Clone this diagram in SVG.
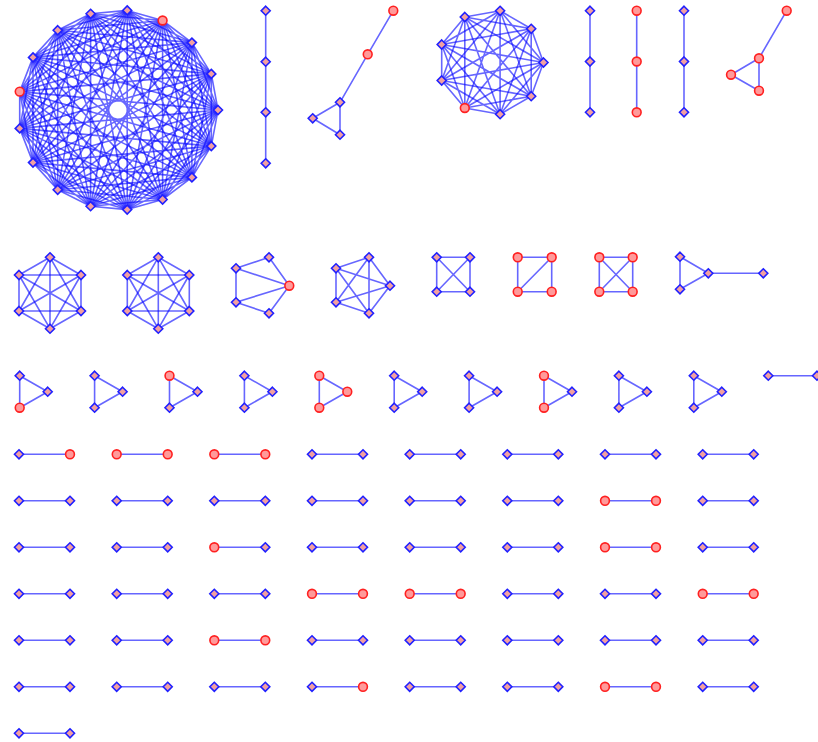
<svg xmlns="http://www.w3.org/2000/svg" xmlns:xlink="http://www.w3.org/1999/xlink" width="818" height="742" viewBox="0 0 818 742">
<style>
.e{fill:none;stroke:#0000ff;stroke-opacity:0.6;stroke-width:1.6;stroke-linejoin:round}
.dn{fill:#f2a0a0;stroke:#2020ff;stroke-width:1.6}
.cn{fill:#ff9a9a;stroke:#ff2020;stroke-width:1.6}
</style>
<defs>
<path id="d" class="dn" d="M0-4.5L4.5 0L0 4.5L-4.5 0Z"/>
<circle id="c" class="cn" r="4.4"/>
</defs>
<rect width="818" height="742" fill="#ffffff"/>
<g id="edges">
<polygon class="e" points="218,110 211.3,73.9 191.9,42.6 162.6,20.5 127.2,10.4 90.6,13.8 57.7,30.2 33,57.4 19.7,91.6 19.7,128.4 33,162.6 57.7,189.8 90.6,206.2 127.2,209.6 162.6,199.5 191.9,177.4 211.3,146.1"/>
<polygon class="e" points="218,110 191.9,42.6 127.2,10.4 57.7,30.2 19.7,91.6 33,162.6 90.6,206.2 162.6,199.5 211.3,146.1 211.3,73.9 162.6,20.5 90.6,13.8 33,57.4 19.7,128.4 57.7,189.8 127.2,209.6 191.9,177.4"/>
<polygon class="e" points="218,110 162.6,20.5 57.7,30.2 19.7,128.4 90.6,206.2 191.9,177.4 211.3,73.9 127.2,10.4 33,57.4 33,162.6 127.2,209.6 211.3,146.1 191.9,42.6 90.6,13.8 19.7,91.6 57.7,189.8 162.6,199.5"/>
<polygon class="e" points="218,110 127.2,10.4 19.7,91.6 90.6,206.2 211.3,146.1 162.6,20.5 33,57.4 57.7,189.8 191.9,177.4 191.9,42.6 57.7,30.2 33,162.6 162.6,199.5 211.3,73.9 90.6,13.8 19.7,128.4 127.2,209.6"/>
<polygon class="e" points="218,110 90.6,13.8 33,162.6 191.9,177.4 162.6,20.5 19.7,91.6 127.2,209.6 211.3,73.9 57.7,30.2 57.7,189.8 211.3,146.1 127.2,10.4 19.7,128.4 162.6,199.5 191.9,42.6 33,57.4 90.6,206.2"/>
<polygon class="e" points="218,110 57.7,30.2 90.6,206.2 211.3,73.9 33,57.4 127.2,209.6 191.9,42.6 19.7,91.6 162.6,199.5 162.6,20.5 19.7,128.4 191.9,177.4 127.2,10.4 33,162.6 211.3,146.1 90.6,13.8 57.7,189.8"/>
<polygon class="e" points="218,110 33,57.4 162.6,199.5 127.2,10.4 57.7,189.8 211.3,73.9 19.7,91.6 191.9,177.4 90.6,13.8 90.6,206.2 191.9,42.6 19.7,128.4 211.3,146.1 57.7,30.2 127.2,209.6 162.6,20.5 33,162.6"/>
<polygon class="e" points="218,110 19.7,91.6 211.3,146.1 33,57.4 191.9,177.4 57.7,30.2 162.6,199.5 90.6,13.8 127.2,209.6 127.2,10.4 90.6,206.2 162.6,20.5 57.7,189.8 191.9,42.6 33,162.6 211.3,73.9 19.7,128.4"/>
<path class="e" d="M265.7 10.7V163.3"/>
<path class="e" d="M393.3 10.7L367.7 54.3L340 102.3M340 102.3V134.7L312.7 118.3Z"/>
<polygon class="e" points="543.5,62.5 531.2,28.8 500.1,10.8 464.8,17 441.7,44.5 441.7,80.5 464.8,108 500.1,114.2 531.2,96.2"/>
<polygon class="e" points="543.5,62.5 500.1,10.8 441.7,44.5 464.8,108 531.2,96.2 531.2,28.8 464.8,17 441.7,80.5 500.1,114.2"/>
<polygon class="e" points="543.5,62.5 464.8,17 464.8,108"/>
<polygon class="e" points="531.2,28.8 441.7,44.5 500.1,114.2"/>
<polygon class="e" points="500.1,10.8 441.7,80.5 531.2,96.2"/>
<polygon class="e" points="543.5,62.5 441.7,44.5 531.2,96.2 464.8,17 500.1,114.2 500.1,10.8 464.8,108 531.2,28.8 441.7,80.5"/>
<path class="e" d="M590 10.7V112.3M636.7 10.7V112.3M684 10.7V112.3"/>
<path class="e" d="M786.7 10.7L759 58.3M759 58.3V90.7L731 74.7Z"/>
<polygon class="e" points="50,257.3 81,275 81,311 50,328.7 19,311 19,275"/>
<polygon class="e" points="50,257.3 81,311 19,311"/>
<polygon class="e" points="81,275 50,328.7 19,275"/>
<path class="e" d="M50 257.3V328.7M81 275L19 311M81 311L19 275"/>
<polygon class="e" points="158.3,257.3 189.3,275 189.3,311 158.3,328.7 127.3,311 127.3,275"/>
<polygon class="e" points="158.3,257.3 189.3,311 127.3,311"/>
<polygon class="e" points="189.3,275 158.3,328.7 127.3,275"/>
<path class="e" d="M158.3 257.3V328.7M189.3 275L127.3 311M189.3 311L127.3 275"/>
<path class="e" d="M236 268.3L269 257.3L289.3 285.7L269 313.3L236 302.3ZM236 268.3L289.3 285.7M236 302.3L289.3 285.7"/>
<polygon class="e" points="336,268.3 369,257.3 390,285.7 369,313.3 336,302.3"/>
<polygon class="e" points="336,268.3 390,285.7 336,302.3 369,257.3 369,313.3"/>
<path class="e" d="M436.7 257.3H470V291.7H436.7ZM436.7 257.3L470 291.7M470 257.3L436.7 291.7"/>
<path class="e" d="M517.7 257.3H551.7V291.7H517.7ZM517.7 291.7L551.7 257.3"/>
<path class="e" d="M599.3 257.3H632.7V291.7H599.3ZM599.3 257.3L632.7 291.7M632.7 257.3L599.3 291.7"/>
<path class="e" d="M680 256.7L708.3 273.3L680 289.3ZM708.3 273.3H763.3"/>
<path class="e" d="M19.7 375.7V407.7L47.7 391.7ZM94.6 375.7V407.7L122.6 391.7ZM169.5 375.7V407.7L197.5 391.7ZM244.4 375.7V407.7L272.4 391.7ZM319.3 375.7V407.7L347.3 391.7ZM394.2 375.7V407.7L422.2 391.7ZM469.1 375.7V407.7L497.1 391.7ZM544 375.7V407.7L572 391.7ZM618.9 375.7V407.7L646.9 391.7ZM693.8 375.7V407.7L721.8 391.7ZM768.3 375.7H817"/>
<path class="e" d="M19 454.3H70M116.7 454.3H167.7M214.3 454.3H265.3M312 454.3H363M409.7 454.3H460.7M507.3 454.3H558.3M605 454.3H656M702.7 454.3H753.7
M19 500.8H70M116.7 500.8H167.7M214.3 500.8H265.3M312 500.8H363M409.7 500.8H460.7M507.3 500.8H558.3M605 500.8H656M702.7 500.8H753.7
M19 547.3H70M116.7 547.3H167.7M214.3 547.3H265.3M312 547.3H363M409.7 547.3H460.7M507.3 547.3H558.3M605 547.3H656M702.7 547.3H753.7
M19 593.8H70M116.7 593.8H167.7M214.3 593.8H265.3M312 593.8H363M409.7 593.8H460.7M507.3 593.8H558.3M605 593.8H656M702.7 593.8H753.7
M19 640.3H70M116.7 640.3H167.7M214.3 640.3H265.3M312 640.3H363M409.7 640.3H460.7M507.3 640.3H558.3M605 640.3H656M702.7 640.3H753.7
M19 686.8H70M116.7 686.8H167.7M214.3 686.8H265.3M312 686.8H363M409.7 686.8H460.7M507.3 686.8H558.3M605 686.8H656M702.7 686.8H753.7
M19 733.3H70"/>
</g>
<g id="nodes">
<g id="g1">
<use id="a0" href="#d" x="218" y="110"/><use id="a1" href="#d" x="211.3" y="73.9"/><use id="a2" href="#d" x="191.9" y="42.6"/><use id="a3" href="#c" x="162.6" y="20.5"/><use id="a4" href="#d" x="127.2" y="10.4"/><use id="a5" href="#d" x="90.6" y="13.8"/><use id="a6" href="#d" x="57.7" y="30.2"/><use id="a7" href="#d" x="33" y="57.4"/><use id="a8" href="#c" x="19.7" y="91.6"/><use id="a9" href="#d" x="19.7" y="128.4"/><use id="a10" href="#d" x="33" y="162.6"/><use id="a11" href="#d" x="57.7" y="189.8"/><use id="a12" href="#d" x="90.6" y="206.2"/><use id="a13" href="#d" x="127.2" y="209.6"/><use id="a14" href="#d" x="162.6" y="199.5"/><use id="a15" href="#d" x="191.9" y="177.4"/><use id="a16" href="#d" x="211.3" y="146.1"/>
</g>
<g id="g2">
<use id="b0" href="#d" x="265.7" y="10.7"/><use id="b1" href="#d" x="265.7" y="61.7"/><use id="b2" href="#d" x="265.7" y="112.3"/><use id="b3" href="#d" x="265.7" y="163.3"/>
</g>
<g id="g3">
<use id="c0" href="#c" x="393.3" y="10.7"/><use id="c1" href="#c" x="367.7" y="54.3"/><use id="c2" href="#d" x="340" y="102.3"/><use id="c3" href="#d" x="312.7" y="118.3"/><use id="c4" href="#d" x="340" y="134.7"/>
</g>
<g id="g4">
<use id="d0" href="#d" x="543.5" y="62.5"/><use id="d1" href="#d" x="531.2" y="28.8"/><use id="d2" href="#d" x="500.1" y="10.8"/><use id="d3" href="#d" x="464.8" y="17"/><use id="d4" href="#d" x="441.7" y="44.5"/><use id="d5" href="#d" x="441.7" y="80.5"/><use id="d6" href="#c" x="464.8" y="108"/><use id="d7" href="#d" x="500.1" y="114.2"/><use id="d8" href="#d" x="531.2" y="96.2"/>
</g>
<g id="g5">
<use id="e0" href="#d" x="590" y="10.7"/><use id="e1" href="#d" x="590" y="61.5"/><use id="e2" href="#d" x="590" y="112.3"/>
<use id="e3" href="#c" x="636.7" y="10.7"/><use id="e4" href="#c" x="636.7" y="61.5"/><use id="e5" href="#c" x="636.7" y="112.3"/>
<use id="e6" href="#d" x="684" y="10.7"/><use id="e7" href="#d" x="684" y="61.5"/><use id="e8" href="#d" x="684" y="112.3"/>
<use id="e9" href="#c" x="786.7" y="10.7"/><use id="e10" href="#c" x="759" y="58.3"/><use id="e11" href="#c" x="731" y="74.7"/><use id="e12" href="#c" x="759" y="90.7"/>
</g>
<g id="g6">
<use id="f0" href="#d" x="50" y="257.3"/><use id="f1" href="#d" x="81" y="275"/><use id="f2" href="#d" x="81" y="311"/><use id="f3" href="#d" x="50" y="328.7"/><use id="f4" href="#d" x="19" y="311"/><use id="f5" href="#d" x="19" y="275"/>
<use id="f6" href="#d" x="158.3" y="257.3"/><use id="f7" href="#d" x="189.3" y="275"/><use id="f8" href="#d" x="189.3" y="311"/><use id="f9" href="#d" x="158.3" y="328.7"/><use id="f10" href="#d" x="127.3" y="311"/><use id="f11" href="#d" x="127.3" y="275"/>
<use id="f12" href="#d" x="236" y="268.3"/><use id="f13" href="#d" x="269" y="257.3"/><use id="f14" href="#c" x="289.3" y="285.7"/><use id="f15" href="#d" x="269" y="313.3"/><use id="f16" href="#d" x="236" y="302.3"/>
<use id="f17" href="#d" x="336" y="268.3"/><use id="f18" href="#d" x="369" y="257.3"/><use id="f19" href="#d" x="390" y="285.7"/><use id="f20" href="#d" x="369" y="313.3"/><use id="f21" href="#d" x="336" y="302.3"/>
<use id="f22" href="#d" x="436.7" y="257.3"/><use id="f23" href="#d" x="470" y="257.3"/><use id="f24" href="#d" x="470" y="291.7"/><use id="f25" href="#d" x="436.7" y="291.7"/>
<use id="f26" href="#c" x="517.7" y="257.3"/><use id="f27" href="#c" x="551.7" y="257.3"/><use id="f28" href="#c" x="551.7" y="291.7"/><use id="f29" href="#c" x="517.7" y="291.7"/>
<use id="f30" href="#c" x="599.3" y="257.3"/><use id="f31" href="#c" x="632.7" y="257.3"/><use id="f32" href="#c" x="632.7" y="291.7"/><use id="f33" href="#c" x="599.3" y="291.7"/>
<use id="f34" href="#d" x="680" y="256.7"/><use id="f35" href="#d" x="680" y="289.3"/><use id="f36" href="#d" x="708.3" y="273.3"/><use id="f37" href="#d" x="763.3" y="273.3"/>
</g>
<g id="g7">
<use id="t0" href="#d" x="19.7" y="375.7"/><use id="t1" href="#c" x="19.7" y="407.7"/><use id="t2" href="#d" x="47.7" y="391.7"/>
<use id="t3" href="#d" x="94.6" y="375.7"/><use id="t4" href="#d" x="94.6" y="407.7"/><use id="t5" href="#d" x="122.6" y="391.7"/>
<use id="t6" href="#c" x="169.5" y="375.7"/><use id="t7" href="#d" x="169.5" y="407.7"/><use id="t8" href="#d" x="197.5" y="391.7"/>
<use id="t9" href="#d" x="244.4" y="375.7"/><use id="t10" href="#d" x="244.4" y="407.7"/><use id="t11" href="#d" x="272.4" y="391.7"/>
<use id="t12" href="#c" x="319.3" y="375.7"/><use id="t13" href="#c" x="319.3" y="407.7"/><use id="t14" href="#c" x="347.3" y="391.7"/>
<use id="t15" href="#d" x="394.2" y="375.7"/><use id="t16" href="#d" x="394.2" y="407.7"/><use id="t17" href="#d" x="422.2" y="391.7"/>
<use id="t18" href="#d" x="469.1" y="375.7"/><use id="t19" href="#d" x="469.1" y="407.7"/><use id="t20" href="#d" x="497.1" y="391.7"/>
<use id="t21" href="#c" x="544" y="375.7"/><use id="t22" href="#c" x="544" y="407.7"/><use id="t23" href="#d" x="572" y="391.7"/>
<use id="t24" href="#d" x="618.9" y="375.7"/><use id="t25" href="#d" x="618.9" y="407.7"/><use id="t26" href="#d" x="646.9" y="391.7"/>
<use id="t27" href="#d" x="693.8" y="375.7"/><use id="t28" href="#d" x="693.8" y="407.7"/><use id="t29" href="#d" x="721.8" y="391.7"/>
<use id="t30" href="#d" x="768.3" y="375.7"/><use id="t31" href="#d" x="817" y="375.7"/>
</g>
<g id="g8">
<use id="r0a" href="#d" x="19" y="454.3"/><use id="r0b" href="#c" x="70" y="454.3"/>
<use id="r0c" href="#c" x="116.7" y="454.3"/><use id="r0d" href="#c" x="167.7" y="454.3"/>
<use id="r0e" href="#c" x="214.3" y="454.3"/><use id="r0f" href="#c" x="265.3" y="454.3"/>
<use id="r0g" href="#d" x="312" y="454.3"/><use id="r0h" href="#d" x="363" y="454.3"/>
<use id="r0i" href="#d" x="409.7" y="454.3"/><use id="r0j" href="#d" x="460.7" y="454.3"/>
<use id="r0k" href="#d" x="507.3" y="454.3"/><use id="r0l" href="#d" x="558.3" y="454.3"/>
<use id="r0m" href="#d" x="605" y="454.3"/><use id="r0n" href="#d" x="656" y="454.3"/>
<use id="r0o" href="#d" x="702.7" y="454.3"/><use id="r0p" href="#d" x="753.7" y="454.3"/>

<use id="r1a" href="#d" x="19" y="500.8"/><use id="r1b" href="#d" x="70" y="500.8"/>
<use id="r1c" href="#d" x="116.7" y="500.8"/><use id="r1d" href="#d" x="167.7" y="500.8"/>
<use id="r1e" href="#d" x="214.3" y="500.8"/><use id="r1f" href="#d" x="265.3" y="500.8"/>
<use id="r1g" href="#d" x="312" y="500.8"/><use id="r1h" href="#d" x="363" y="500.8"/>
<use id="r1i" href="#d" x="409.7" y="500.8"/><use id="r1j" href="#d" x="460.7" y="500.8"/>
<use id="r1k" href="#d" x="507.3" y="500.8"/><use id="r1l" href="#d" x="558.3" y="500.8"/>
<use id="r1m" href="#c" x="605" y="500.8"/><use id="r1n" href="#c" x="656" y="500.8"/>
<use id="r1o" href="#d" x="702.7" y="500.8"/><use id="r1p" href="#d" x="753.7" y="500.8"/>

<use id="r2a" href="#d" x="19" y="547.3"/><use id="r2b" href="#d" x="70" y="547.3"/>
<use id="r2c" href="#d" x="116.7" y="547.3"/><use id="r2d" href="#d" x="167.7" y="547.3"/>
<use id="r2e" href="#c" x="214.3" y="547.3"/><use id="r2f" href="#d" x="265.3" y="547.3"/>
<use id="r2g" href="#d" x="312" y="547.3"/><use id="r2h" href="#d" x="363" y="547.3"/>
<use id="r2i" href="#d" x="409.7" y="547.3"/><use id="r2j" href="#d" x="460.7" y="547.3"/>
<use id="r2k" href="#d" x="507.3" y="547.3"/><use id="r2l" href="#d" x="558.3" y="547.3"/>
<use id="r2m" href="#c" x="605" y="547.3"/><use id="r2n" href="#c" x="656" y="547.3"/>
<use id="r2o" href="#d" x="702.7" y="547.3"/><use id="r2p" href="#d" x="753.7" y="547.3"/>

<use id="r3a" href="#d" x="19" y="593.8"/><use id="r3b" href="#d" x="70" y="593.8"/>
<use id="r3c" href="#d" x="116.7" y="593.8"/><use id="r3d" href="#d" x="167.7" y="593.8"/>
<use id="r3e" href="#d" x="214.3" y="593.8"/><use id="r3f" href="#d" x="265.3" y="593.8"/>
<use id="r3g" href="#c" x="312" y="593.8"/><use id="r3h" href="#c" x="363" y="593.8"/>
<use id="r3i" href="#c" x="409.7" y="593.8"/><use id="r3j" href="#c" x="460.7" y="593.8"/>
<use id="r3k" href="#d" x="507.3" y="593.8"/><use id="r3l" href="#d" x="558.3" y="593.8"/>
<use id="r3m" href="#d" x="605" y="593.8"/><use id="r3n" href="#d" x="656" y="593.8"/>
<use id="r3o" href="#c" x="702.7" y="593.8"/><use id="r3p" href="#c" x="753.7" y="593.8"/>

<use id="r4a" href="#d" x="19" y="640.3"/><use id="r4b" href="#d" x="70" y="640.3"/>
<use id="r4c" href="#d" x="116.7" y="640.3"/><use id="r4d" href="#d" x="167.7" y="640.3"/>
<use id="r4e" href="#c" x="214.3" y="640.3"/><use id="r4f" href="#c" x="265.3" y="640.3"/>
<use id="r4g" href="#d" x="312" y="640.3"/><use id="r4h" href="#d" x="363" y="640.3"/>
<use id="r4i" href="#d" x="409.7" y="640.3"/><use id="r4j" href="#d" x="460.7" y="640.3"/>
<use id="r4k" href="#d" x="507.3" y="640.3"/><use id="r4l" href="#d" x="558.3" y="640.3"/>
<use id="r4m" href="#d" x="605" y="640.3"/><use id="r4n" href="#d" x="656" y="640.3"/>
<use id="r4o" href="#d" x="702.7" y="640.3"/><use id="r4p" href="#d" x="753.7" y="640.3"/>

<use id="r5a" href="#d" x="19" y="686.8"/><use id="r5b" href="#d" x="70" y="686.8"/>
<use id="r5c" href="#d" x="116.7" y="686.8"/><use id="r5d" href="#d" x="167.7" y="686.8"/>
<use id="r5e" href="#d" x="214.3" y="686.8"/><use id="r5f" href="#d" x="265.3" y="686.8"/>
<use id="r5g" href="#d" x="312" y="686.8"/><use id="r5h" href="#c" x="363" y="686.8"/>
<use id="r5i" href="#d" x="409.7" y="686.8"/><use id="r5j" href="#d" x="460.7" y="686.8"/>
<use id="r5k" href="#d" x="507.3" y="686.8"/><use id="r5l" href="#d" x="558.3" y="686.8"/>
<use id="r5m" href="#c" x="605" y="686.8"/><use id="r5n" href="#c" x="656" y="686.8"/>
<use id="r5o" href="#d" x="702.7" y="686.8"/><use id="r5p" href="#d" x="753.7" y="686.8"/>

<use id="r6a" href="#d" x="19" y="733.3"/><use id="r6b" href="#d" x="70" y="733.3"/>
</g>
</g>
</svg>
